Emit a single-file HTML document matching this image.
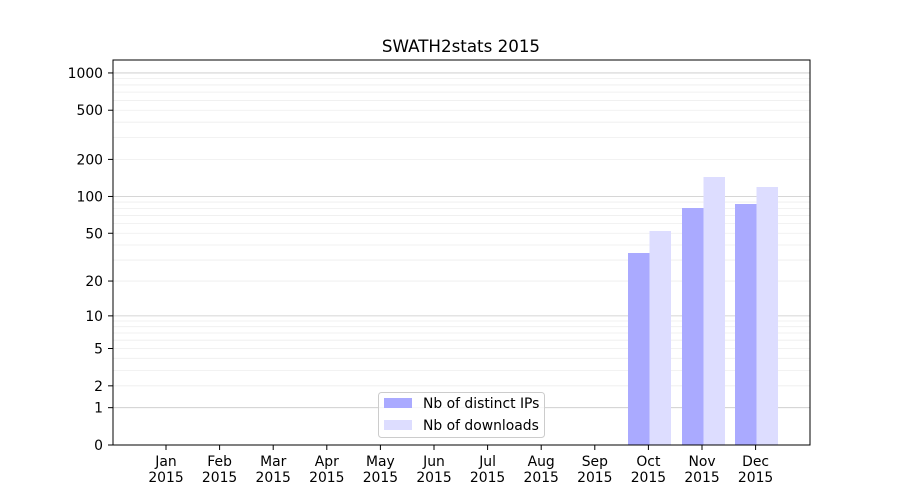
<!DOCTYPE html>
<html><head><meta charset="utf-8"><style>
body{margin:0;background:#fff}
svg{display:block;font-family:"DejaVu Sans","Liberation Sans",sans-serif}
</style></head><body>
<svg id="s" width="900" height="500" xmlns="http://www.w3.org/2000/svg">
<rect width="900" height="500" fill="#fff"/>
<g id="grid"></g>
<g id="bars">
<rect x="628" y="253" width="21.5" height="192" fill="#aaaaff"/>
<rect x="649.5" y="231" width="21.5" height="214" fill="#ddddff"/>
<rect x="682" y="208" width="21.5" height="237" fill="#aaaaff"/>
<rect x="703.5" y="177" width="21.5" height="268" fill="#ddddff"/>
<rect x="735" y="204" width="21.5" height="241" fill="#aaaaff"/>
<rect x="756.5" y="187" width="21.5" height="258" fill="#ddddff"/>
</g>
<rect x="113" y="60" width="697" height="385" fill="none" stroke="#000" stroke-width="1"/>
<g id="ticks" font-size="13.9"></g>
<text x="461" y="52" font-size="16.7" text-anchor="middle">SWATH2stats 2015</text>
<g>
<rect x="378.5" y="392.5" width="166" height="45" rx="3" fill="#fff" fill-opacity="0.8" stroke="#ccc"/>
<rect x="384" y="398" width="28" height="10" fill="#aaaaff"/>
<rect x="384" y="420" width="28" height="10" fill="#ddddff"/>
<text x="423" y="408" font-size="13.9">Nb of distinct IPs</text>
<text x="423" y="430" font-size="13.9">Nb of downloads</text>
</g>
</svg>
<script>
var ns="http://www.w3.org/2000/svg";
function Y(v){return 445-124*Math.log10(1+v);}
function el(p,t,a,txt){var e=document.createElementNS(ns,t);for(var k in a)e.setAttribute(k,a[k]);if(txt!==undefined)e.textContent=txt;document.getElementById(p).appendChild(e);return e;}
[1,10,100].forEach(function(d){for(var i=2;i<=9;i++){var y=Y(i*d);el("grid","line",{x1:113,x2:810,y1:y,y2:y,stroke:"#eeeeee","stroke-width":0.8});}});
[1,10,100,1000].forEach(function(v){var y=Y(v);el("grid","line",{x1:113,x2:810,y1:y,y2:y,stroke:"#c8c8c8","stroke-width":0.8});});
[0,1,2,5,10,20,50,100,200,500,1000].forEach(function(v){var y=Y(v);
el("ticks","line",{x1:108,x2:113,y1:y,y2:y,stroke:"#000"});
el("ticks","text",{x:103,y:y+5,"text-anchor":"end"},String(v));});
var m=["Jan","Feb","Mar","Apr","May","Jun","Jul","Aug","Sep","Oct","Nov","Dec"];
m.forEach(function(n,i){var x=166+i*53.6;
el("ticks","line",{x1:x,x2:x,y1:445,y2:450,stroke:"#000"});
el("ticks","text",{x:x,y:466,"text-anchor":"middle"},n);
el("ticks","text",{x:x,y:482,"text-anchor":"middle"},"2015");});
</script>
</body></html>
